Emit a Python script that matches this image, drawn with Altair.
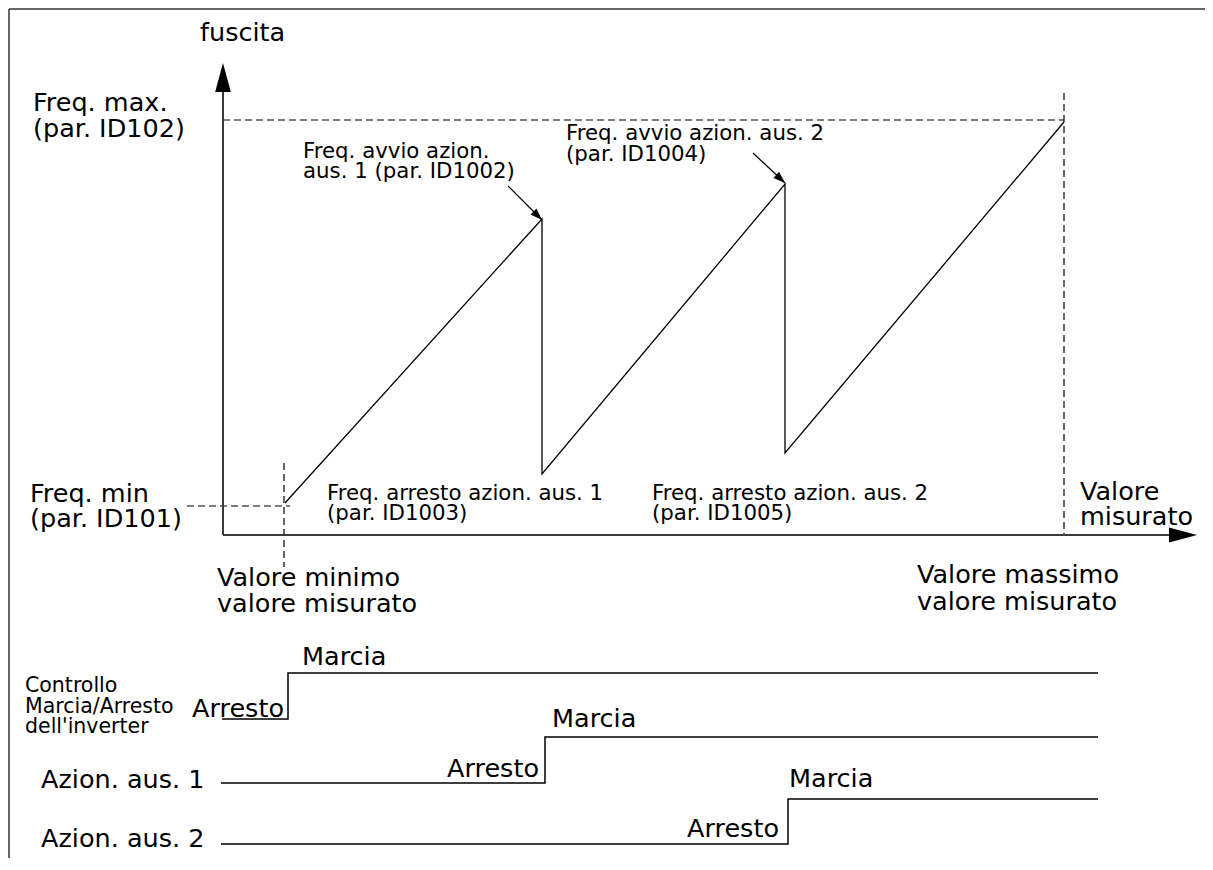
import altair as alt
import pandas as pd

# ---------------- data (diagram units = reference pixel grid) ----------------
# sawtooth output-frequency curve
saw_x = [285, 542, 542, 785, 785, 1064]
saw_y = [503, 219, 474, 184, 453, 122]

# timing diagrams (step signals)
sig1_x = [222, 288, 288, 1098]
sig1_y = [719, 719, 673, 673]
sig2_x = [221, 545, 545, 1098]
sig2_y = [783, 783, 737, 737]
sig3_x = [221, 788, 788, 1098]
sig3_y = [844, 844, 799, 799]

# axes (solid) and guides (dashed)
axis_x1 = [223, 223]
axis_x2 = [223, 1172]
axis_y1 = [535, 535]
axis_y2 = [88, 535]

dash_x1 = [223, 1064, 187, 284]
dash_x2 = [1064, 1064, 290, 284]
dash_y1 = [120, 93, 506, 463]
dash_y2 = [120, 535, 506, 567]

# frame
frame_x1 = [9, 9]
frame_x2 = [1205, 9]
frame_y1 = [9, 9]
frame_y2 = [9, 858]

# annotation arrows
ann_x1 = [508, 753]
ann_y1 = [186, 153]
ann_x2 = [542, 785]
ann_y2 = [220, 183]
ann_angle = [45, 43]

# big axis arrow heads (tip positions)
head_x = [223, 1197]
head_y = [63, 535]
head_angle = [270, 0]

# texts
big_text = ["fuscita", "Freq. max.", "(par. ID102)", "Freq. min", "(par. ID101)",
            "Valore minimo", "valore misurato", "Valore massimo", "valore misurato",
            "Valore", "misurato", "Marcia", "Marcia", "Marcia",
            "Azion. aus. 1", "Azion. aus. 2"]
big_x = [200, 33, 33, 30, 30, 217, 217, 917, 917, 1080, 1080, 302, 552, 789, 41, 41]
big_y = [41, 111, 137, 502, 527, 586, 612, 583, 610, 500, 525, 665, 727, 787, 788, 847]

right_text = ["Arresto", "Arresto", "Arresto"]
right_x = [284, 539, 779]
right_y = [717, 777, 837]

mid_text = ["Freq. avvio azion.", "aus. 1 (par. ID1002)",
            "Freq. avvio azion. aus. 2", "(par. ID1004)",
            "Freq. arresto azion. aus. 1", "(par. ID1003)",
            "Freq. arresto azion. aus. 2", "(par. ID1005)"]
mid_x = [303, 303, 566, 566, 327, 327, 652, 652]
mid_y = [158, 178, 140, 161, 500, 520, 500, 520]

small_text = ["Controllo", "Marcia/Arresto", "dell'inverter"]
small_x = [25, 25, 25]
small_y = [692, 713, 733]

# ---------------- chart ----------------
W, H = 1197, 850
xs = alt.Scale(domain=[8, 8 + W], nice=False, zero=False)
ys = alt.Scale(domain=[8, 8 + H], nice=False, zero=False, reverse=True)
FONT = "DejaVu Sans"


def X(f="x"):
    return alt.X(f + ":Q", scale=xs, axis=None)


def Y(f="y"):
    return alt.Y(f + ":Q", scale=ys, axis=None)


def rules(x1, x2, y1, y2, **kw):
    df = pd.DataFrame({"x": x1, "x2": x2, "y": y1, "y2": y2})
    return alt.Chart(df).mark_rule(**kw).encode(x=X(), x2="x2:Q", y=Y(), y2="y2:Q")


def polyline(xv, yv, name, **kw):
    df = pd.DataFrame({"x": xv, "y": yv, "i": list(range(len(xv))), "s": name})
    return alt.Chart(df).mark_line(**kw).encode(x=X(), y=Y(), order="i:Q", detail="s:N")


def texts(t, xv, yv, size, align):
    df = pd.DataFrame({"t": t, "x": xv, "y": yv})
    return alt.Chart(df).mark_text(font=FONT, fontSize=size, align=align,
                                   baseline="alphabetic", color="black").encode(
        x=X(), y=Y(), text="t:N")


frame = rules(frame_x1, frame_x2, frame_y1, frame_y2, color="#333333", strokeWidth=1.5)
axes = rules(axis_x1, axis_x2, axis_y1, axis_y2, color="#3a3a3a", strokeWidth=2)
dashes = rules(dash_x1, dash_x2, dash_y1, dash_y2, color="black", strokeWidth=1.2,
               strokeDash=[7, 4])
shafts = rules(ann_x1, ann_x2, ann_y1, ann_y2, color="black", strokeWidth=1.2)

saw = polyline(saw_x, saw_y, "saw", color="black", strokeWidth=1.3)
s1 = polyline(sig1_x, sig1_y, "s1", color="black", strokeWidth=1.5)
s2 = polyline(sig2_x, sig2_y, "s2", color="black", strokeWidth=1.5)
s3 = polyline(sig3_x, sig3_y, "s3", color="black", strokeWidth=1.5)

big_head_df = pd.DataFrame({"x": head_x, "y": head_y, "a": head_angle, "sz": [841, 784]})
big_heads = alt.Chart(big_head_df).mark_point(
    shape="M0,0L-2,-0.54L-2,0.54Z", filled=True, opacity=1, color="black", strokeWidth=0
).encode(x=X(), y=Y(), angle=alt.Angle("a:Q", scale=None), size=alt.Size("sz:Q", scale=None))

small_head_df = pd.DataFrame({"x": ann_x2, "y": ann_y2, "a": ann_angle})
small_heads = alt.Chart(small_head_df).mark_point(
    shape="M0,0L-2,-0.7L-2,0.7Z", filled=True, opacity=1, color="black", strokeWidth=0,
    size=144
).encode(x=X(), y=Y(), angle=alt.Angle("a:Q", scale=None))

t_big = texts(big_text, big_x, big_y, 25.5, "left")
t_right = texts(right_text, right_x, right_y, 25.5, "right")
t_mid = texts(mid_text, mid_x, mid_y, 21.3, "left")
t_small = texts(small_text, small_x, small_y, 20.5, "left")

chart = alt.layer(
    frame, dashes, axes, saw, s1, s2, s3, shafts, big_heads, small_heads,
    t_big, t_right, t_mid, t_small
).properties(
    width=W, height=H, padding=0, autosize="none", background="white"
).configure_view(stroke=None)

chart.save("out.html", embed_options={"renderer": "svg", "actions": False})
